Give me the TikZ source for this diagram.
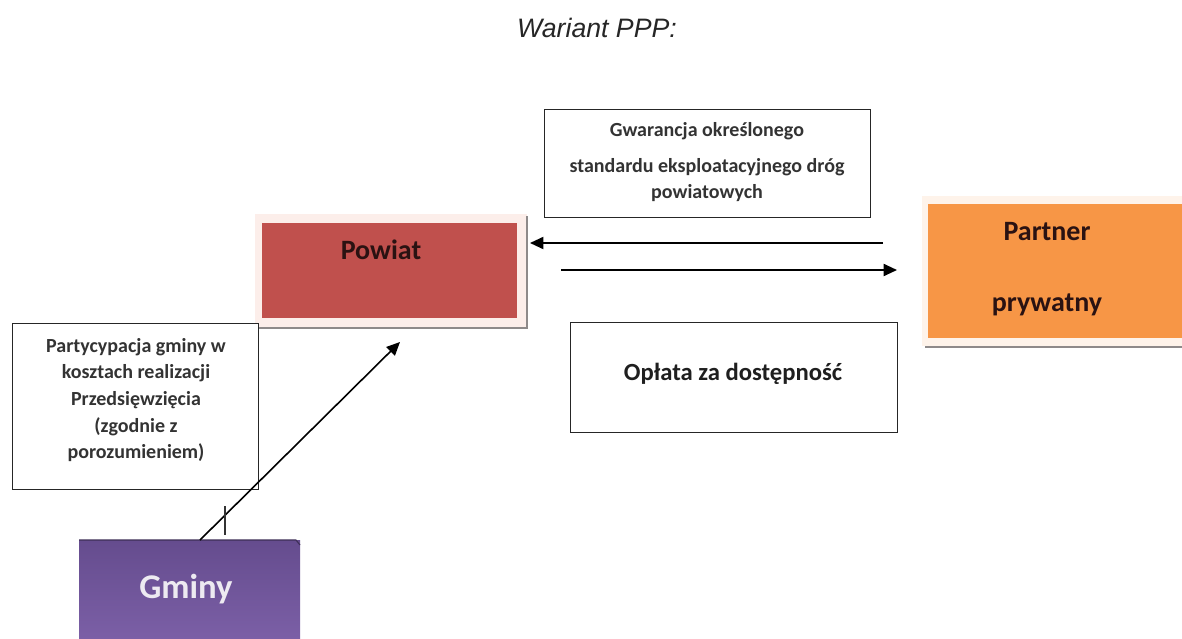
\documentclass[tikz,border=0pt]{standalone}
\usepackage{fontspec}
\setmainfont{Carlito}
\newfontfamily\arialfont{Liberation Sans}
\usetikzlibrary{arrows.meta}
\definecolor{powred}{HTML}{C0504D}
\definecolor{partorange}{HTML}{F79646}
\definecolor{gmpurple}{HTML}{654C8E}
\definecolor{gmlight}{HTML}{7B5FA6}
\definecolor{framepink}{HTML}{FCEEEA}
\definecolor{frameorange}{HTML}{FEF3EA}
\definecolor{shadowgray}{HTML}{8E8A8A}
\definecolor{txtdark}{HTML}{2A1212}
\tikzset{
  lbox/.style={draw=black!85, line width=1pt, fill=white},
  lbl/.style={font=\fontsize{15}{20}\selectfont\bfseries, text=black!80, align=center, inner sep=0pt},
  bigl/.style={font=\fontsize{21}{24}\selectfont\bfseries, text=txtdark, inner sep=0pt},
  conn/.style={line width=1.4pt, -{Triangle[length=10pt,width=9pt]}},
}
\begin{document}
\begin{tikzpicture}[x=0.75pt,y=-0.75pt]
\useasboundingbox (0,0) rectangle (1182,639);
\fill[white] (0,0) rectangle (1182,639);

% title
\node[font=\arialfont\itshape\fontsize{20}{24}\selectfont, text=black!85, anchor=base, inner sep=0pt] (title) at (597,37) {Wariant PPP:};

% Powiat
\fill[framepink] (255,214) rectangle (527,328);
\draw[shadowgray, line width=1.2pt] (527,216) -- (527,328) -- (258,328);
\node[fill=powred, minimum width=255*0.75pt, minimum height=95*0.75pt, anchor=north west, inner sep=0pt] (powiat) at (262,223) {};
\node[bigl] (powiatlbl) at (381,250) {Powiat};

% Partner prywatny
\fill[frameorange] (922,196) rectangle (1182,346);
\draw[shadowgray, line width=1.4pt] (925,347) -- (1182,347);
\node[fill=partorange, minimum width=254*0.75pt, minimum height=134*0.75pt, anchor=north west, inner sep=0pt] (partner) at (928,204) {};
\node[bigl] (partnerlbl1) at (1047,232) {Partner};
\node[bigl] (partnerlbl2) at (1047,305) {prywatny};

% Gwarancja box
\node[lbox, minimum width=326*0.75pt, minimum height=108*0.75pt, anchor=north west, inner sep=0pt] (gwar) at (544,109) {};
\node[lbl] (gwar1) at (707,131) {Gwarancja określonego};
\node[lbl] (gwar2) at (707,167) {standardu eksploatacyjnego dróg};
\node[lbl] (gwar3) at (707,193) {powiatowych};

% Oplata box
\node[lbox, minimum width=327*0.75pt, minimum height=110*0.75pt, anchor=north west, inner sep=0pt] (oplatabox) at (570,322) {};
\node[font=\fontsize{18.5}{20}\selectfont\bfseries, text=black!88, inner sep=0pt] (oplata) at (733,374) {Opłata za dostępność};

% Partycypacja box
\node[lbox, minimum width=246*0.75pt, minimum height=166*0.75pt, anchor=north west, inner sep=0pt] (partybox) at (12,323) {};
\node[lbl] (party) at (136,400) {Partycypacja gminy w\\kosztach realizacji\\Przedsięwzięcia\\(zgodnie z\\porozumieniem)};

% Gminy
\shade[top color=gmpurple, bottom color=gmlight] (79,540) rectangle (300,639);
\draw[gmpurple!60!black, line width=0.8pt] (79,540) -- (296,540) -- (300,545);
\node[inner sep=0pt, minimum width=221*0.75pt, minimum height=99*0.75pt, anchor=north west] (gminy) at (79,540) {};
\node[font=\fontsize{26}{28}\selectfont\bfseries, text=white!88!gmpurple, inner sep=0pt] (gminylbl) at (186,589) {Gminy};

% connectors
\coordinate (a1s) at (883,243);
\coordinate (a1e) at (530,243);
\coordinate (a2s) at (561,270);
\coordinate (a2e) at (897,270);
\coordinate (g1s) at (200,540);
\coordinate (g1e) at (400,342);
\coordinate (t1) at (225,506);
\coordinate (t2) at (225,535);
\draw[conn] (a1s) -- (a1e);
\draw[conn] (a2s) -- (a2e);
\draw[conn, line width=1.2pt] (g1s) -- (g1e);
\draw[black!80, line width=1pt] (t1) -- (t2);
\end{tikzpicture}
\end{document}
